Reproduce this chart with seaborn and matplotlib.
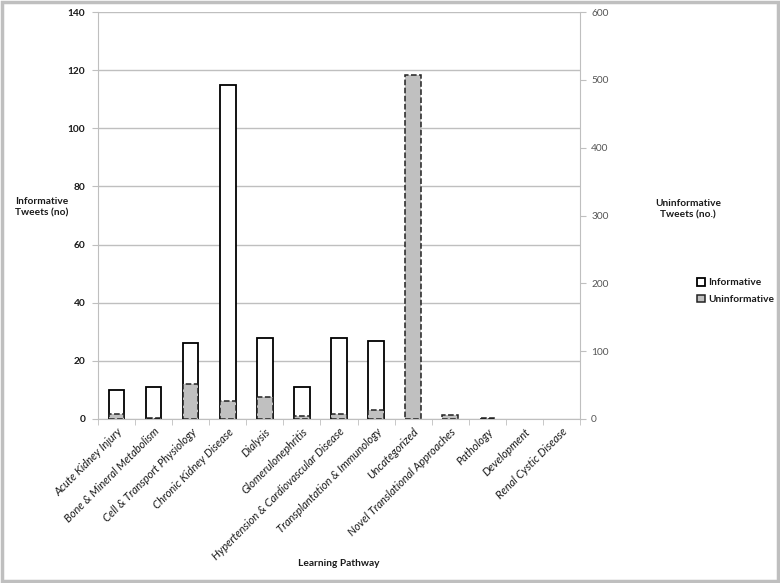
import matplotlib
matplotlib.use("Agg")
import matplotlib.pyplot as plt
import seaborn as sns
import pandas as pd
from matplotlib.patches import Patch, Rectangle

categories = ["Acute Kidney Injury", "Bone & Mineral Metabolism", "Cell & Transport Physiology",
              "Chronic Kidney Disease", "Dialysis", "Glomerulonephritis",
              "Hypertension & Cardiovascular Disease", "Transplantation & Immunology",
              "Uncategorized", "Novel Translational Approaches", "Pathology",
              "Development", "Renal Cystic Disease"]
informative = [10, 11, 26, 115, 28, 11, 28, 27, 0, 0, 0, 0, 0]
uninformative = [8, 2, 51, 26, 32, 5, 8, 13, 507, 6, 1, 0, 0]
left_ticks = [0, 20, 40, 60, 80, 100, 120, 140]
right_ticks = [0, 100, 200, 300, 400, 500, 600]

sns.set_style("white")
plt.rcParams["font.family"] = ["Lato", "DejaVu Sans"]

df = pd.DataFrame({"cat": categories, "inf": informative, "uninf": uninformative})

fig = plt.figure(figsize=(7.8, 5.83), dpi=100)
ax = fig.add_axes([98/780, 1-419/583, (580-98)/780, (419-12)/583])
ax2 = ax.twinx()

grid_c = "#bfbfbf"
txt_c = "#1a1a1a"
sns.barplot(data=df, x="cat", y="inf", ax=ax, color="white", edgecolor="black",
            linewidth=1.3, width=0.42, saturation=1)
sns.barplot(data=df, x="cat", y="uninf", ax=ax2, color="#c0c0c0", edgecolor="#222222",
            linewidth=1.1, linestyle="--", width=0.42, saturation=1)
for a in (ax, ax2):
    for p in a.patches:
        if p.get_height() == 0:
            p.set_visible(False)

ax.set_ylim(0, 140)
ax2.set_ylim(0, 600)
ax.set_xlim(-0.5, len(categories) - 0.5)
ax.set_yticks(left_ticks)
ax2.set_yticks(right_ticks)
ax.yaxis.grid(True, color=grid_c, linewidth=1)
ax.set_axisbelow(True)

for a in (ax, ax2):
    a.spines["top"].set_visible(False)
    a.spines["left"].set_color(grid_c)
    a.spines["right"].set_color(grid_c)
    a.spines["bottom"].set_color(grid_c)
ax.spines["right"].set_visible(False)
ax2.spines["left"].set_visible(False)
ax2.spines["bottom"].set_visible(False)

ax.set_xlabel("")
ax.set_ylabel("")
ax2.set_ylabel("")
ax.tick_params(axis="y", left=True, length=4, color=grid_c, labelsize=7.3, pad=5)
for t in ax.get_yticklabels():
    t.set_fontweight("bold")
    t.set_color(txt_c)
ax2.tick_params(axis="y", right=True, length=4, color=grid_c, labelsize=7.3,
                labelcolor="#555555", pad=4)

ax.set_xticks(range(len(categories)))
ax.set_xticklabels(categories, rotation=45, ha="right", rotation_mode="anchor",
                   fontstyle="italic", fontsize=8, color=txt_c)
ax.tick_params(axis="x", bottom=False, length=0, pad=5)
ax.set_xticks([i + 0.5 for i in range(-1, len(categories))], minor=True)
ax.tick_params(axis="x", which="minor", bottom=True, length=4, color=grid_c)

fig.text(42/780, 1-207/583, "Informative\nTweets (no)", ha="center", va="center",
         fontsize=7.3, fontweight="bold", color=txt_c, linespacing=1.35)
fig.text(688/780, 1-209/583, "Uninformative\nTweets (no.)", ha="center", va="center",
         fontsize=7.3, fontweight="bold", color=txt_c, linespacing=1.35)
fig.text(339/780, 1-564/583, "Learning Pathway", ha="center", va="center",
         fontsize=7.3, fontweight="bold", color=txt_c)

handles = [Patch(facecolor="white", edgecolor="black", linewidth=1.3, label="Informative"),
           Patch(facecolor="#c0c0c0", edgecolor="#222222", linewidth=1.1, label="Uninformative")]
leg = fig.legend(handles=handles, loc="center left", bbox_to_anchor=(688/780, 1-291/583),
                 frameon=False, fontsize=7.3, handlelength=0.8, handleheight=0.8,
                 handletextpad=0.3, labelspacing=0.7)
for t in leg.get_texts():
    t.set_fontweight("bold")
    t.set_color(txt_c)

fig.patches.append(Rectangle((0.002, 0.003), 0.996, 0.994, transform=fig.transFigure,
                             fill=False, edgecolor="#bfbfbf", linewidth=2.5))

fig.savefig("out.png", dpi=100)
